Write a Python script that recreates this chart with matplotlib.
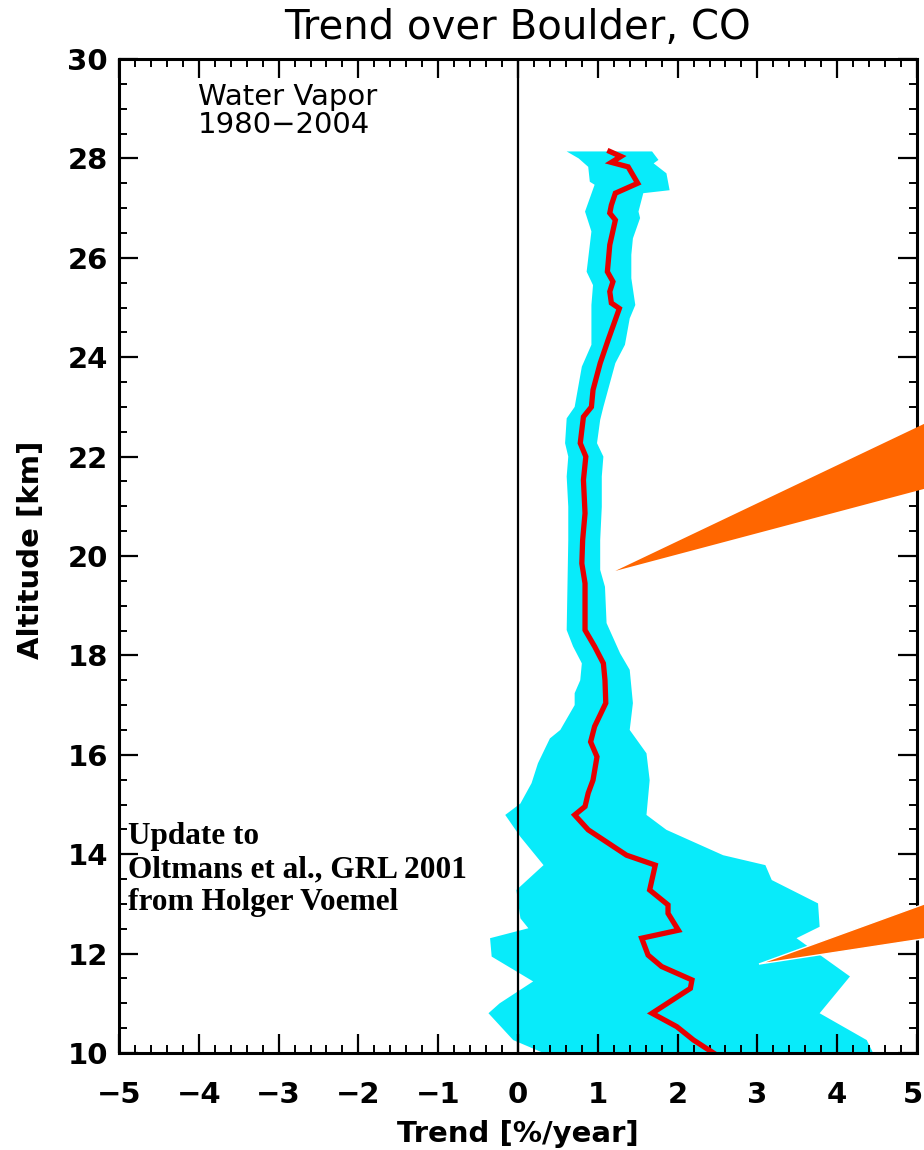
import matplotlib
matplotlib.use("Agg")
import matplotlib.pyplot as plt
import matplotlib.transforms as mtransforms
from matplotlib.ticker import MultipleLocator
from matplotlib.patches import Polygon

# ---- data ----
mean_alt = [28.14, 28.04, 27.92, 27.83, 27.50, 27.30, 27.06, 26.90, 26.76, 26.26, 25.72, 25.52,
            25.32, 25.09, 24.98, 24.35, 23.88, 23.34, 23.00, 22.80, 22.27, 22.00, 21.53, 20.86,
            20.32, 19.85, 19.45, 18.51, 18.18, 17.84, 17.50, 17.04, 16.57, 16.26, 15.96, 15.49,
            15.23, 14.96, 14.79, 14.49, 13.98, 13.78, 13.28, 12.98, 12.81, 12.47, 12.31, 11.97,
            11.74, 11.47, 11.30, 10.80, 10.53, 10.26, 10.00]
mean_trend = [1.15, 1.29, 1.17, 1.38, 1.50, 1.22, 1.17, 1.15, 1.22, 1.15, 1.12, 1.19,
              1.15, 1.17, 1.27, 1.13, 1.03, 0.94, 0.92, 0.82, 0.78, 0.85, 0.82, 0.84,
              0.81, 0.80, 0.84, 0.84, 0.96, 1.07, 1.09, 1.10, 0.96, 0.91, 0.99, 0.94,
              0.88, 0.84, 0.71, 0.88, 1.36, 1.72, 1.65, 1.88, 1.88, 2.01, 1.55, 1.63,
              1.80, 2.18, 2.16, 1.68, 1.99, 2.20, 2.45]

lo_alt = [28.14, 28.00, 27.83, 27.53, 27.47, 26.93, 26.53, 25.72, 25.45, 25.05, 24.25, 23.81,
          23.00, 22.77, 22.27, 22.00, 21.60, 20.99, 20.32, 18.51, 18.18, 17.84, 17.50, 17.24,
          17.00, 16.50, 16.33, 15.83, 15.43, 15.02, 14.79, 14.35, 13.78, 13.28, 12.71, 12.51,
          12.31, 11.94, 11.44, 11.00, 10.80, 10.26, 10.00]
lo_trend = [0.61, 0.76, 0.88, 0.90, 0.96, 0.84, 0.92, 0.86, 0.94, 0.92, 0.92, 0.80,
            0.71, 0.61, 0.59, 0.63, 0.61, 0.63, 0.63, 0.61, 0.69, 0.80, 0.78, 0.71,
            0.71, 0.53, 0.40, 0.25, 0.17, 0.03, -0.16, 0.03, 0.32, -0.02, 0.03, 0.13,
            -0.35, -0.33, 0.19, -0.23, -0.37, -0.06, 0.32]

hi_alt = [28.14, 27.97, 27.90, 27.70, 27.36, 27.30, 26.93, 26.80, 26.39, 26.06, 25.59, 25.05,
          24.78, 24.25, 23.88, 23.00, 22.74, 22.27, 22.00, 21.60, 20.99, 20.32, 19.72, 19.38,
          18.65, 18.04, 17.71, 17.04, 16.50, 16.03, 15.49, 14.79, 14.49, 13.98, 13.78, 13.48,
          13.01, 12.54, 12.31, 11.54, 10.80, 10.26, 10.00]
hi_trend = [1.68, 1.76, 1.70, 1.86, 1.90, 1.57, 1.51, 1.53, 1.44, 1.42, 1.42, 1.47,
            1.40, 1.34, 1.22, 1.07, 1.03, 0.99, 1.07, 1.05, 1.05, 1.03, 1.03, 1.09,
            1.11, 1.28, 1.40, 1.44, 1.40, 1.61, 1.65, 1.61, 1.86, 2.57, 3.10, 3.18,
            3.76, 3.78, 3.49, 4.16, 3.78, 4.37, 4.45]

x_ticks = [-5, -4, -3, -2, -1, 0, 1, 2, 3, 4, 5]
y_ticks = [10, 12, 14, 16, 18, 20, 22, 24, 26, 28, 30]

# callout wedges (annotation shapes, in data coordinates)
wedge1_x = [1.22, 5.30, 5.30]
wedge1_y = [19.70, 22.82, 21.44]
wedge2_x = [3.02, 5.30, 5.30]
wedge2_y = [11.79, 13.12, 12.35]

CYAN = "#08ebfa"
RED = "#e60000"
ORANGE = "#ff6600"

fig = plt.figure(figsize=(9.24, 11.5), dpi=100)
ax = fig.add_axes([119 / 924, 1 - 1053 / 1150, 798 / 924, 994 / 1150])

band_x = lo_trend + hi_trend[::-1]
band_y = lo_alt + hi_alt[::-1]
ax.fill(band_x, band_y, color=CYAN, lw=0, zorder=1)
ax.axvline(0, color="black", lw=1.6, zorder=2)
ax.plot(mean_trend, mean_alt, color=RED, lw=3.8, zorder=3, solid_joinstyle="miter")

ax.set_xlim(-5, 5)
ax.set_ylim(10, 30)
ax.set_xticks(x_ticks)
ax.set_yticks(y_ticks)
ax.xaxis.set_minor_locator(MultipleLocator(0.2))
ax.yaxis.set_minor_locator(MultipleLocator(0.5))
ax.set_xticklabels([str(v).replace("-", "\u2212") for v in x_ticks])
ax.set_yticklabels([str(v) for v in y_ticks])
ax.tick_params(which="both", direction="in", top=True, right=True, color="black")
ax.tick_params(which="major", length=13.5, width=1.6, labelsize=21, pad=8)
ax.tick_params(axis="x", which="major", pad=20)
ax.tick_params(which="minor", length=6, width=1.4)
for lab in ax.get_xticklabels() + ax.get_yticklabels():
    lab.set_fontweight("bold")
    lab.set_family("DejaVu Sans")
# nudge the last x tick label so it stays inside the figure, as in the reference
last = ax.get_xticklabels()[-1]
last.set_transform(last.get_transform() + mtransforms.ScaledTranslation(-4 / 100, 0, fig.dpi_scale_trans))
for sp in ax.spines.values():
    sp.set_linewidth(2.2)
    sp.set_zorder(5)

ax.set_xlabel("Trend [%/year]", fontsize=21, fontweight="bold", family="DejaVu Sans", labelpad=8)
ax.set_ylabel("Altitude [km]", fontsize=21, fontweight="bold", family="DejaVu Sans")
ax.yaxis.set_label_coords(-0.093, 0.506)

fig.text(518 / 924, 1 - 28 / 1150, "Trend over Boulder, CO", ha="center", va="center",
         fontsize=29, family="DejaVu Sans")

ax.text(0.099, 0.976, "Water Vapor\n1980\u22122004", transform=ax.transAxes, ha="left", va="top",
        fontsize=21, family="DejaVu Sans", linespacing=1.0)

ax.text(0.011, 0.232, "Update to\nOltmans et al., GRL 2001\nfrom Holger Voemel",
        transform=ax.transAxes, ha="left", va="top", fontsize=22.5, fontweight="bold",
        family="Liberation Serif", linespacing=1.17, zorder=6)

poly1 = Polygon(list(zip(wedge1_x, wedge1_y)), closed=True, facecolor=ORANGE, edgecolor="none",
                clip_on=False, zorder=7)
ax.add_patch(poly1)
poly2 = Polygon(list(zip(wedge2_x, wedge2_y)), closed=True, facecolor=ORANGE, edgecolor="white",
                lw=1.0, clip_on=False, zorder=7)
ax.add_patch(poly2)

fig.savefig("out.png", dpi=100)
